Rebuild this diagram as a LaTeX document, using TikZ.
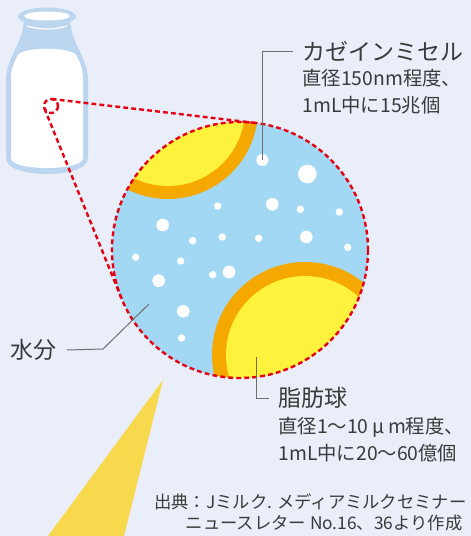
\documentclass[tikz,border=0pt]{standalone}
\usepackage{fontspec}
\newfontfamily\jpfont{Noto Sans CJK JP}

\definecolor{paper}{HTML}{E9EEF8}
\definecolor{water}{HTML}{A2D8F4}
\definecolor{fatcore}{HTML}{FFF23C}
\definecolor{fatrim}{HTML}{F5A800}
\definecolor{beam}{HTML}{F8D94E}
\definecolor{bottle}{HTML}{BDD6EF}
\definecolor{dashred}{HTML}{E60012}
\definecolor{leadgray}{HTML}{6E6E6E}
\definecolor{ink}{HTML}{3A3A3A}

\tikzset{every picture/.style={line width=0.75pt}}
\tikzset{
  conedash/.style={draw=dashred, line width=1.8pt, dash pattern=on 3.6pt off 2.4pt},
  leader/.style={draw=leadgray, line width=0.75pt},
  title/.style={font=\jpfont\fontsize{17.25}{20}\selectfont, text=ink, inner sep=0pt},
  detail/.style={font=\jpfont\fontsize{14.5}{20.25}\selectfont, text=ink, inner sep=0pt, align=left},
  source/.style={font=\jpfont\fontsize{13}{15}\selectfont, text=ink, inner sep=0pt}
}
\newcommand{\wmu}{\makebox[1em]{μ}}

\begin{document}
\begin{tikzpicture}[x=0.75pt,y=0.75pt,yscale=-1,xscale=1]
        \useasboundingbox[fill=paper] (0,0) rectangle (471,536);

        %Beam below the sphere
        \fill[beam] (163,380) -- (124,536) -- (48,536) -- cycle;

        %Bottle: glass, lip and milk
        \fill[bottle] (24,22) -- (22,32) .. controls (18,48) and (6,62) .. (6,80) -- (6,158) .. controls (6,170) and (30,174) .. (47,174) .. controls (64,174) and (88,170) .. (88,158) -- (88,80) .. controls (88,62) and (76,48) .. (72,32) -- (70,22) -- cycle;
        \fill[bottle] (47,16.5) ellipse [x radius=29, y radius=9];
        \fill[white] (47,16) ellipse [x radius=23, y radius=4.5];
        \draw[white, line width=0.9pt] (27,26) .. controls (40,30) and (54,30) .. (67,26);
        \fill[white] (17,57) .. controls (17,46) and (77,46) .. (77,57) .. controls (81,64) and (83,70) .. (83,80) -- (83,158) .. controls (83,165) and (64,168) .. (47,168) .. controls (30,168) and (11,165) .. (11,158) -- (11,80) .. controls (11,70) and (13,64) .. (17,57) -- cycle;

        %Magnified view
        \path[fill=water] (240,250) coordinate (sphere) circle [radius=128];
        \begin{scope}
          \clip (sphere) circle [radius=128];
          \fill[fatrim] (168,109) circle [radius=90];
          \fill[fatcore] (168,109) circle [radius=77];
          \fill[fatrim] (305,355) coordinate (fatball) circle [radius=93];
          \fill[fatcore] (305,355) circle [radius=79];
        \end{scope}

        %Casein micelles
        \foreach \x/\y/\r in {262.3/160/6, 307.3/174/9.3, 217.7/206/3.7, 272.3/204.3/6.3, 300.3/209.3/3.7,
            339.3/212/3.7, 162.7/225/6.3, 192.7/240.7/3.7, 222.3/237/3.7, 258.7/238.3/3.7, 306.3/237/6.3,
            347.7/247.3/3.7, 135.7/257.3/3.7, 180.7/261/3.7, 212.7/274.7/3.7, 229/272/6.3, 158.7/280.7/6.3,
            183.3/311.3/6.3, 181.7/338/3.7}
          \fill[white] (\x,\y) circle [radius=\r];
        \coordinate (casein) at (262.3,160);

        %Dashed cone from the bottle
        \draw[conedash] (51,106) circle [radius=7];
        \draw[conedash] (51.8,99) -- (254.9,122.9);
        \draw[conedash] (44.5,108.6) -- (121.4,298.1);
        \draw[conedash] (sphere) circle [radius=128];

        % Text Node
        \node[title, anchor=west] (caseintitle) at (302,51) {カゼインミセル};
        \node[detail, anchor=west] (caseindetail) at (302,92) {直径150nm程度、\\1mL中に15兆個};
        \node[title, anchor=west] (fattitle) at (278,398) {脂肪球};
        \node[detail, anchor=west] (fatdetail) at (278,440) {直径1～10\wmu m程度、\\1mL中に20～60億個};
        \node[title, anchor=east] (watertitle) at (57,350) {水分};
        \node[source, anchor=east] (src1) at (467,502) {出典：Jミルク. メディアミルクセミナー};
        \node[source, anchor=east] (src2) at (463,523) {ニュースレター No.16、36より作成};

        %Leader lines
        \coordinate (waterpt) at (149,304);
        \coordinate (fatpt) at (256,357);
        \draw[leader] (casein) |- ([xshift=-6.75pt]caseintitle.west);
        \draw[leader] (fatpt) |- ([xshift=-6.75pt]fattitle.west);
        \draw[leader] (waterpt) -- (103,349) -- ([xshift=7.5pt]watertitle.east);
\end{tikzpicture}
\end{document}
